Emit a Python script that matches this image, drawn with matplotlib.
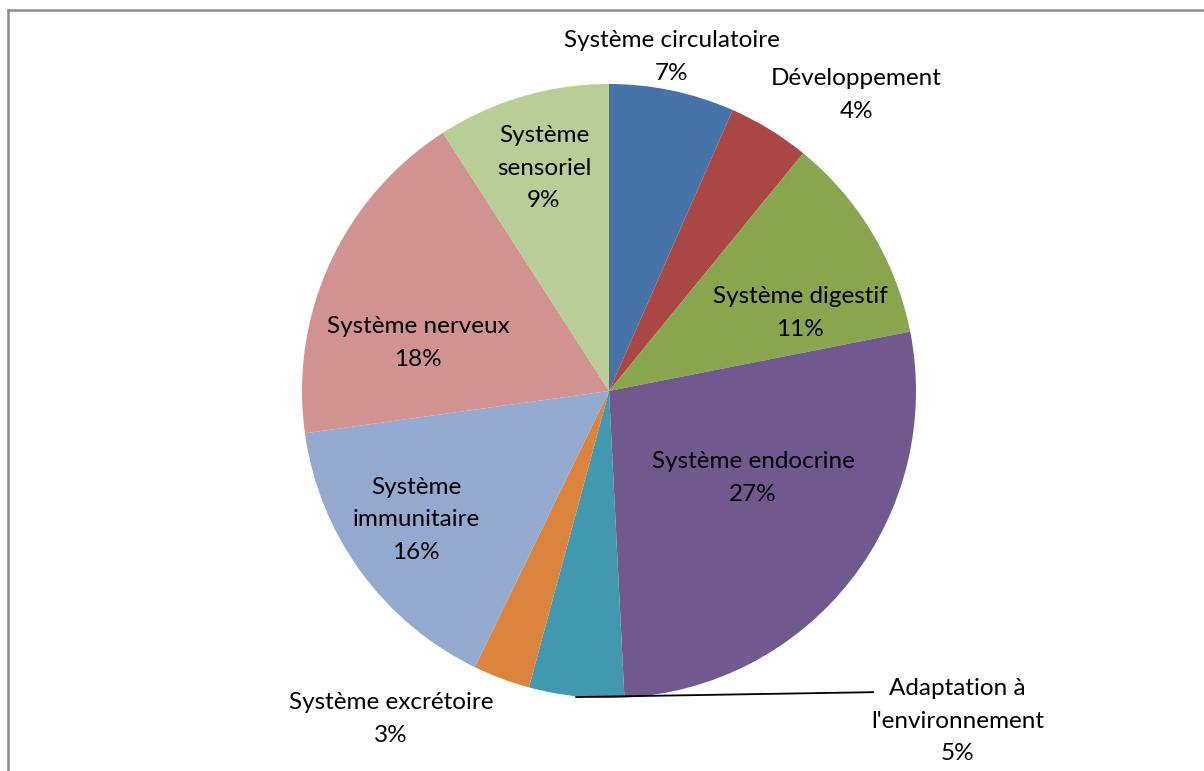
import matplotlib.pyplot as plt
from matplotlib.lines import Line2D

plt.rcParams['font.family'] = ['Lato', 'DejaVu Sans']

# Data
categories = ["Système circulatoire", "Développement", "Système digestif",
              "Système endocrine", "Adaptation à\nl'environnement",
              "Système excrétoire", "Système\nimmunitaire", "Système nerveux",
              "Système\nsensoriel"]
shares = [6.6, 4.3, 11.0, 27.3, 5.0, 3.0, 15.6, 18.1, 9.1]
colors = ['#4572A7', '#AA4643', '#89A54E', '#71588F', '#4198AF',
          '#DB843D', '#93A9CF', '#D19392', '#B9CD96']

# label positions (in pie radius units, centre at 0,0)
label_xy = [(0.205, 1.088), (0.805, 0.964), (0.622, 0.254), (0.469, -0.283),
            (1.136, -1.075), (-0.710, -1.068), (-0.629, -0.420),
            (-0.622, 0.156), (-0.212, 0.726)]

fig = plt.figure(figsize=(12.04, 7.71), dpi=100)
ax = fig.add_axes([0, 0, 1, 1])

ax.pie(shares, colors=colors, startangle=90, counterclock=False,
       radius=1.0, wedgeprops=dict(linewidth=0))

for name, v, (x, y) in zip(categories, shares, label_xy):
    ax.text(x, y, f"{name}\n{round(v)}%", ha='center', va='center',
            fontsize=17.5, linespacing=1.68, color='black')

# leader line for the adaptation label
ax.plot([-0.107, 0.86], [-0.997, -0.981], color='black', lw=1.3)

ax.set_xlim(-609 / 307, (1204 - 609) / 307)
ax.set_ylim((391 - 771) / 307, 391 / 307)
ax.set_aspect('auto')
ax.axis('off')

# chart border (top and left visible)
x0, y0 = 7.5 / 1204, 1 - 9.5 / 771
fig.add_artist(Line2D([x0, 1], [y0, y0], color='#8c8c8c', lw=1.8))
fig.add_artist(Line2D([x0, x0], [y0, 0], color='#8c8c8c', lw=1.8))

fig.savefig('out.png', dpi=100)
